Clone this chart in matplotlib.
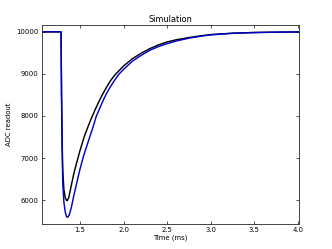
import numpy as np
import matplotlib
matplotlib.use("Agg")
import matplotlib.pyplot as plt

# readout (time in ms, ADC counts)
t_black = [1.06, 1.282, 1.288, 1.295, 1.302, 1.315, 1.33, 1.345, 1.354, 1.37,
           1.38, 1.40, 1.43, 1.45, 1.48, 1.50, 1.55, 1.60, 1.638, 1.70, 1.75,
           1.80, 1.85, 1.90, 2.00, 2.10, 2.20, 2.30, 2.40, 2.50, 2.60, 2.75,
           2.90, 3.00, 3.25, 3.50, 3.75, 4.00, 4.05]
adc_black = [10000, 10000, 8500, 7400, 6700, 6250, 6060, 5995, 5990, 6060,
             6150, 6350, 6640, 6800, 7030, 7180, 7520, 7790, 7985, 8270, 8480,
             8670, 8840, 8975, 9190, 9360, 9490, 9600, 9690, 9760, 9810, 9865,
             9910, 9935, 9968, 9985, 9993, 9998, 10000]

t_blue = [1.06, 1.282, 1.288, 1.295, 1.302, 1.315, 1.33, 1.345, 1.358, 1.375,
          1.40, 1.43, 1.45, 1.50, 1.538, 1.60, 1.65, 1.685, 1.75, 1.80, 1.85,
          1.90, 1.942, 2.00, 2.10, 2.20, 2.30, 2.40, 2.50, 2.60, 2.75, 2.90,
          3.00, 3.25, 3.50, 3.75, 4.00, 4.05]
adc_blue = [10000, 10000, 8500, 7200, 6400, 5950, 5720, 5610, 5590, 5640,
            5820, 6120, 6300, 6740, 7030, 7430, 7740, 7985, 8300, 8520, 8700,
            8860, 8983, 9110, 9300, 9440, 9560, 9650, 9720, 9780, 9850, 9900,
            9928, 9965, 9982, 9992, 9998, 10000]

plt.rcParams['font.size'] = 6.2
fig = plt.figure(figsize=(4.15, 3.1125), dpi=80)
ax = fig.add_axes([0.125, 0.1, 0.775, 0.8])

ax.plot(t_black, adc_black, color='black', lw=1.3)
ax.plot(t_blue, adc_blue, color='#0000cc', lw=1.3)

ax.set_xlim(1.058, 4.01)
ax.set_ylim(5430, 10165)
ax.set_xticks([1.5, 2.0, 2.5, 3.0, 3.5, 4.0])
ax.set_yticks([6000, 7000, 8000, 9000, 10000])
ax.tick_params(direction='in', top=True, right=True, length=3, width=0.6, pad=3)
for s in ax.spines.values():
    s.set_linewidth(0.8)
    s.set_color('#333333')

ax.set_title('Simulation', fontsize=7.4, pad=3)
ax.set_xlabel('Time (ms)', labelpad=1)
ax.set_ylabel('ADC readout', labelpad=3)

fig.savefig('out.png', dpi=80)
